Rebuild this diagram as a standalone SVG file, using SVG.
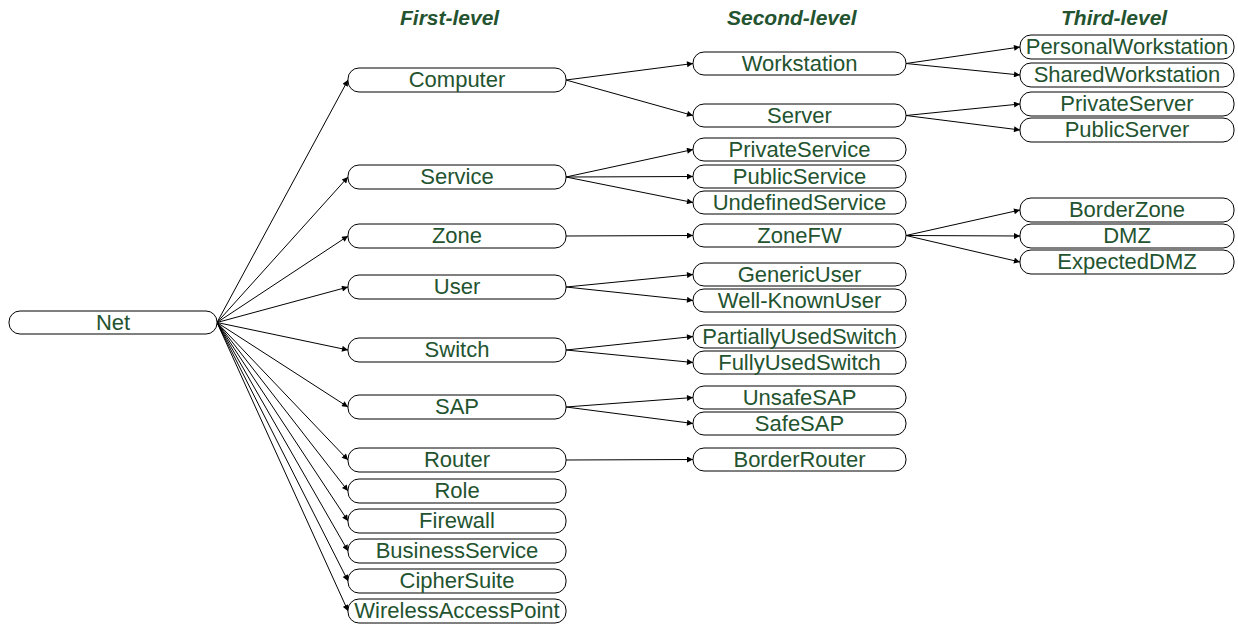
<svg xmlns="http://www.w3.org/2000/svg" width="1238" height="624" viewBox="0 0 1238 624">
<style>
.n rect{fill:#fff;stroke:#000;stroke-width:1}
.n text{font-family:"Liberation Sans",Arial,sans-serif;font-size:22px;fill:#23532f;text-anchor:middle}
.h{font-family:"Liberation Sans",Arial,sans-serif;font-size:21px;font-weight:bold;font-style:italic;fill:#23532f}
#edges path{fill:none;stroke:#000;stroke-width:1;marker-end:url(#arr)}
</style>
<defs>
<marker id="arr" viewBox="0 0 10 10" refX="10" refY="5" markerWidth="8" markerHeight="6" markerUnits="userSpaceOnUse" orient="auto">
<path d="M0,0 L10,5 L0,10 z" fill="#000"/>
</marker>
</defs>
<rect width="1238" height="624" fill="#fff"/>
<g id="headers">
<text class="h" x="400" y="25">First-level</text>
<text class="h" x="727" y="25">Second-level</text>
<text class="h" x="1061" y="25">Third-level</text>
</g>
<g id="edges">
<path d="M217,322.5 L348,80"/>
<path d="M217,322.5 L348,177"/>
<path d="M217,322.5 L348,236"/>
<path d="M217,322.5 L348,287"/>
<path d="M217,322.5 L348,350"/>
<path d="M217,322.5 L348,407"/>
<path d="M217,322.5 L348,460"/>
<path d="M217,322.5 L348,491"/>
<path d="M217,322.5 L348,521"/>
<path d="M217,322.5 L348,551"/>
<path d="M217,322.5 L348,581"/>
<path d="M217,322.5 L348,611"/>
<path d="M566,80 L693,63.5"/>
<path d="M566,80 L693,115.5"/>
<path d="M566,177 L693,149.5"/>
<path d="M566,177 L693,176.5"/>
<path d="M566,177 L693,202.5"/>
<path d="M566,236 L693,235.5"/>
<path d="M566,287 L693,274.5"/>
<path d="M566,287 L693,300.5"/>
<path d="M566,350 L693,336.5"/>
<path d="M566,350 L693,362.5"/>
<path d="M566,407 L693,397.5"/>
<path d="M566,407 L693,423.5"/>
<path d="M566,460 L693,459.5"/>
<path d="M906,63.5 L1020,47"/>
<path d="M906,63.5 L1020,75"/>
<path d="M906,115.5 L1020,104"/>
<path d="M906,115.5 L1020,130"/>
<path d="M906,235.5 L1020,210"/>
<path d="M906,235.5 L1020,236"/>
<path d="M906,235.5 L1020,262"/>
</g>
<g id="net" class="n"><rect x="9" y="311" width="208" height="23" rx="11"/><text x="113" y="330">Net</text></g>
<g id="computer" class="n"><rect x="348" y="68" width="218" height="24" rx="11"/><text x="457" y="87">Computer</text></g>
<g id="service" class="n"><rect x="348" y="165" width="218" height="24" rx="11"/><text x="457" y="184">Service</text></g>
<g id="zone" class="n"><rect x="348" y="224" width="218" height="24" rx="11"/><text x="457" y="243">Zone</text></g>
<g id="user" class="n"><rect x="348" y="275" width="218" height="24" rx="11"/><text x="457" y="294">User</text></g>
<g id="switch" class="n"><rect x="348" y="338" width="218" height="24" rx="11"/><text x="457" y="357">Switch</text></g>
<g id="sap" class="n"><rect x="348" y="395" width="218" height="24" rx="11"/><text x="457" y="414">SAP</text></g>
<g id="router" class="n"><rect x="348" y="448" width="218" height="24" rx="11"/><text x="457" y="467">Router</text></g>
<g id="role" class="n"><rect x="348" y="479" width="218" height="24" rx="11"/><text x="457" y="498">Role</text></g>
<g id="firewall" class="n"><rect x="348" y="509" width="218" height="24" rx="11"/><text x="457" y="528">Firewall</text></g>
<g id="businessservice" class="n"><rect x="348" y="539" width="218" height="24" rx="11"/><text x="457" y="558">BusinessService</text></g>
<g id="ciphersuite" class="n"><rect x="348" y="569" width="218" height="24" rx="11"/><text x="457" y="588">CipherSuite</text></g>
<g id="wirelessaccesspoint" class="n"><rect x="348" y="599" width="218" height="24" rx="11"/><text x="457" y="618">WirelessAccessPoint</text></g>
<g id="workstation" class="n"><rect x="693" y="52" width="213" height="23" rx="11"/><text x="799.5" y="70.5">Workstation</text></g>
<g id="server" class="n"><rect x="693" y="104" width="213" height="23" rx="11"/><text x="799.5" y="122.5">Server</text></g>
<g id="privateservice" class="n"><rect x="693" y="138" width="213" height="23" rx="11"/><text x="799.5" y="156.5">PrivateService</text></g>
<g id="publicservice" class="n"><rect x="693" y="165" width="213" height="23" rx="11"/><text x="799.5" y="183.5">PublicService</text></g>
<g id="undefinedservice" class="n"><rect x="693" y="191" width="213" height="23" rx="11"/><text x="799.5" y="209.5">UndefinedService</text></g>
<g id="zonefw" class="n"><rect x="693" y="224" width="213" height="23" rx="11"/><text x="799.5" y="242.5">ZoneFW</text></g>
<g id="genericuser" class="n"><rect x="693" y="263" width="213" height="23" rx="11"/><text x="799.5" y="281.5">GenericUser</text></g>
<g id="wellknownuser" class="n"><rect x="693" y="289" width="213" height="23" rx="11"/><text x="799.5" y="307.5">Well-KnownUser</text></g>
<g id="partiallyusedswitch" class="n"><rect x="693" y="325" width="213" height="23" rx="11"/><text x="799.5" y="343.5">PartiallyUsedSwitch</text></g>
<g id="fullyusedswitch" class="n"><rect x="693" y="351" width="213" height="23" rx="11"/><text x="799.5" y="369.5">FullyUsedSwitch</text></g>
<g id="unsafesap" class="n"><rect x="693" y="386" width="213" height="23" rx="11"/><text x="799.5" y="404.5">UnsafeSAP</text></g>
<g id="safesap" class="n"><rect x="693" y="412" width="213" height="23" rx="11"/><text x="799.5" y="430.5">SafeSAP</text></g>
<g id="borderrouter" class="n"><rect x="693" y="448" width="213" height="23" rx="11"/><text x="799.5" y="466.5">BorderRouter</text></g>
<g id="personalworkstation" class="n"><rect x="1020" y="35" width="214" height="24" rx="11"/><text x="1127" y="54">PersonalWorkstation</text></g>
<g id="sharedworkstation" class="n"><rect x="1020" y="63" width="214" height="24" rx="11"/><text x="1127" y="82">SharedWorkstation</text></g>
<g id="privateserver" class="n"><rect x="1020" y="92" width="214" height="24" rx="11"/><text x="1127" y="111">PrivateServer</text></g>
<g id="publicserver" class="n"><rect x="1020" y="118" width="214" height="24" rx="11"/><text x="1127" y="137">PublicServer</text></g>
<g id="borderzone" class="n"><rect x="1020" y="198" width="214" height="24" rx="11"/><text x="1127" y="217">BorderZone</text></g>
<g id="dmz" class="n"><rect x="1020" y="224" width="214" height="24" rx="11"/><text x="1127" y="243">DMZ</text></g>
<g id="expecteddmz" class="n"><rect x="1020" y="250" width="214" height="24" rx="11"/><text x="1127" y="269">ExpectedDMZ</text></g>
</svg>
